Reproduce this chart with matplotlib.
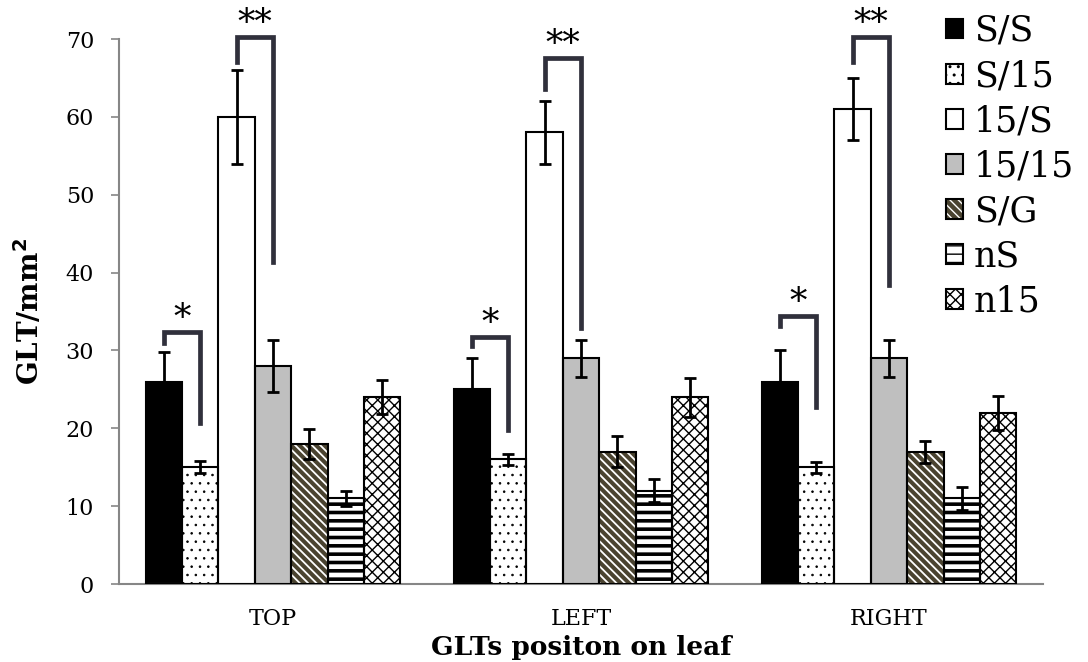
import matplotlib
matplotlib.use('Agg')
import matplotlib.pyplot as plt
from matplotlib.legend_handler import HandlerTuple
import numpy as np

# data
positions = ['TOP', 'LEFT', 'RIGHT']
series = ['S/S', 'S/15', '15/S', '15/15', 'S/G', 'nS', 'n15']
means = [
    [26, 25, 26],   # S/S
    [15, 16, 15],   # S/15
    [60, 58, 61],   # 15/S
    [28, 29, 29],   # 15/15
    [18, 17, 17],   # S/G
    [11, 12, 11],   # nS
    [24, 24, 22],   # n15
]
errs = [
    [3.8, 4.0, 4.0],
    [0.8, 0.7, 0.7],
    [6.0, 4.0, 4.0],
    [3.3, 2.4, 2.4],
    [1.9, 2.0, 1.4],
    [1.0, 1.5, 1.5],
    [2.2, 2.5, 2.2],
]
# significance brackets: group, left series, right series, left leg end, top, right leg end, label
brk_group = [0, 0, 1, 1, 2, 2]
brk_left = [0, 2, 0, 2, 0, 2]
brk_right = [1, 3, 1, 3, 1, 3]
brk_y1 = [31.0, 67.0, 30.6, 63.6, 33.2, 67.0]
brk_top = [32.4, 70.3, 31.7, 67.6, 34.4, 70.3]
brk_y2 = [20.7, 41.4, 19.8, 32.9, 22.8, 38.4]
brk_label = ['*', '**', '*', '**', '*', '**']

# styles
faces = ['black', 'white', 'white', '#bfbfbf', '#4a4330', 'white', 'white']
hatch_col = ['black', 'black', 'black', 'black', 'white', 'black', 'black']
hatches = [None, '..', None, None, '\\\\\\\\', '--', 'xxx']
hatch_lw = [1, 0.6, 1, 1, 1.3, 2.6, 1.0]

serif = ['DejaVu Serif']
plt.rcParams['font.family'] = serif

fig = plt.figure(figsize=(10.88, 6.62), dpi=100)
ax = fig.add_axes([0.1094, 0.1178, 0.8492, 0.8232])

w = 0.1182
x = np.arange(len(positions))
handles = []
for i, name in enumerate(series):
    xs = x + (i - 3) * w
    plt.rcParams['hatch.linewidth'] = hatch_lw[i]
    b1 = ax.bar(xs, means[i], w, color=faces[i], edgecolor=hatch_col[i],
                hatch=hatches[i], linewidth=0, zorder=2)
    for p in b1:
        if hasattr(p, 'set_hatch_linewidth'):
            p.set_hatch_linewidth(hatch_lw[i])
    b2 = ax.bar(xs, means[i], w, fill=False, edgecolor='black', linewidth=1.5, zorder=3)
    ax.errorbar(xs, means[i], yerr=errs[i], fmt='none', ecolor='black',
                elinewidth=2, capsize=4.5, capthick=2, zorder=4)
    handles.append((b1, b2))

for k in range(len(brk_label)):
    xl = brk_group[k] + (brk_left[k] - 3) * w
    xr = brk_group[k] + (brk_right[k] - 3) * w
    ax.plot([xl, xl, xr, xr], [brk_y1[k], brk_top[k], brk_top[k], brk_y2[k]],
            color='#30303c', lw=3.4, solid_joinstyle='miter', clip_on=False, zorder=5)
    ax.text((xl + xr) / 2, brk_top[k] + 0.4, brk_label[k], ha='center', va='baseline',
            fontsize=25, clip_on=False)

ax.set_xlim(-0.5, 2.5)
ax.set_ylim(0, 70)
ax.set_yticks(np.arange(0, 71, 10))
ax.set_xticks(x)
ax.set_xticklabels(positions)
ax.tick_params(axis='x', length=0, pad=17, labelsize=16)
ax.tick_params(axis='y', length=6, width=1.2, color='#868686', pad=12, labelsize=16)
for s in ['top', 'right']:
    ax.spines[s].set_visible(False)
for s in ['left', 'bottom']:
    ax.spines[s].set_color('#868686')
    ax.spines[s].set_linewidth(1.5)

ax.set_ylabel('GLT/mm$^\\mathbf{2}$', fontsize=20, fontweight='bold')
ax.yaxis.set_label_coords(-0.08, 0.5)
ax.set_xlabel('GLTs positon on leaf', fontsize=19, fontweight='bold', labelpad=4)

leg = fig.legend(handles, series, loc='upper right', bbox_to_anchor=(1.0, 1.0),
                 handler_map={tuple: HandlerTuple(ndivide=1)},
                 frameon=False, fontsize=25, handlelength=0.5, handleheight=0.5,
                 handletextpad=0.3, labelspacing=0.32, borderaxespad=0.0)

fig.savefig('out.png', dpi=100)
